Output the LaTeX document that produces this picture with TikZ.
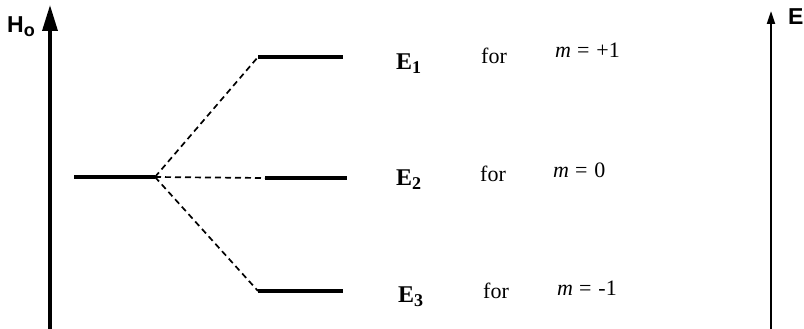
\documentclass[tikz,border=0pt]{standalone}
\usepackage{fontspec}
\setmainfont{Liberation Serif}
\newfontfamily\labsans{Liberation Sans}
\usetikzlibrary{arrows.meta}
\begin{document}
\begin{tikzpicture}[x=1pt,y=-1pt,
  level/.style={line width=4pt},
  split/.style={line width=1.7pt,dash pattern=on 6pt off 4pt},
  lab/.style={anchor=base west,inner sep=0pt,font=\fontsize{22}{22}\selectfont},
  elab/.style={anchor=base west,inner sep=0pt,font=\fontsize{24}{24}\selectfont\bfseries},
  axlab/.style={anchor=base west,inner sep=0pt,font=\labsans\bfseries\fontsize{23}{23}\selectfont}]
\useasboundingbox (0,0) rectangle (804,329);
% axes
\coordinate (hbot) at (50,329);
\coordinate (htop) at (50,5);
\coordinate (ebot) at (771,329);
\coordinate (etop) at (771,11);
\draw[line width=3.5pt,-{Triangle[length=26pt,width=15pt]}] (hbot) -- (htop);
\draw[line width=2pt,-{Triangle[length=13pt,width=8pt]}] (ebot) -- (etop);
\node[axlab] (ho) at (7,33) {H\raisebox{-4pt}{\fontsize{18}{18}\selectfont o}};
\node[axlab] (elab) at (788,25) {E};
% levels
\coordinate (l0a) at (74,177);
\coordinate (l0b) at (155,177);
\coordinate (l1a) at (258,57);
\coordinate (l1b) at (343,57);
\coordinate (l2a) at (265,178);
\coordinate (l2b) at (347,178);
\coordinate (l3a) at (258,291);
\coordinate (l3b) at (343,291);
\draw[level] (l0a) -- (l0b);
\draw[level] (l1a) -- (l1b);
\draw[level] (l2a) -- (l2b);
\draw[level] (l3a) -- (l3b);
\draw[split] (l0b) -- (l1a);
\draw[split] (l0b) -- (l2a);
\draw[split] (l0b) -- (l3a);
% labels
\node[elab] (e1) at (396,70) {E\raisebox{-4pt}{\fontsize{18}{18}\selectfont 1}};
\node[lab] (f1) at (481,64) {for};
\node[lab] (m1) at (555,58) {\textit{m}\hspace{6pt}=\hspace{7pt}+1};
\node[elab] (e2) at (396,185) {E\raisebox{-4pt}{\fontsize{18}{18}\selectfont 2}};
\node[lab] (f2) at (480,181) {for};
\node[lab] (m2) at (553,177) {\textit{m}\hspace{6pt}=\hspace{7pt}0};
\node[elab] (e3) at (398,302) {E\raisebox{-4pt}{\fontsize{18}{18}\selectfont 3}};
\node[lab] (f3) at (483,298) {for};
\node[lab] (m3) at (557,295) {\textit{m}\hspace{6pt}=\hspace{7pt}-1};
\end{tikzpicture}
\end{document}
